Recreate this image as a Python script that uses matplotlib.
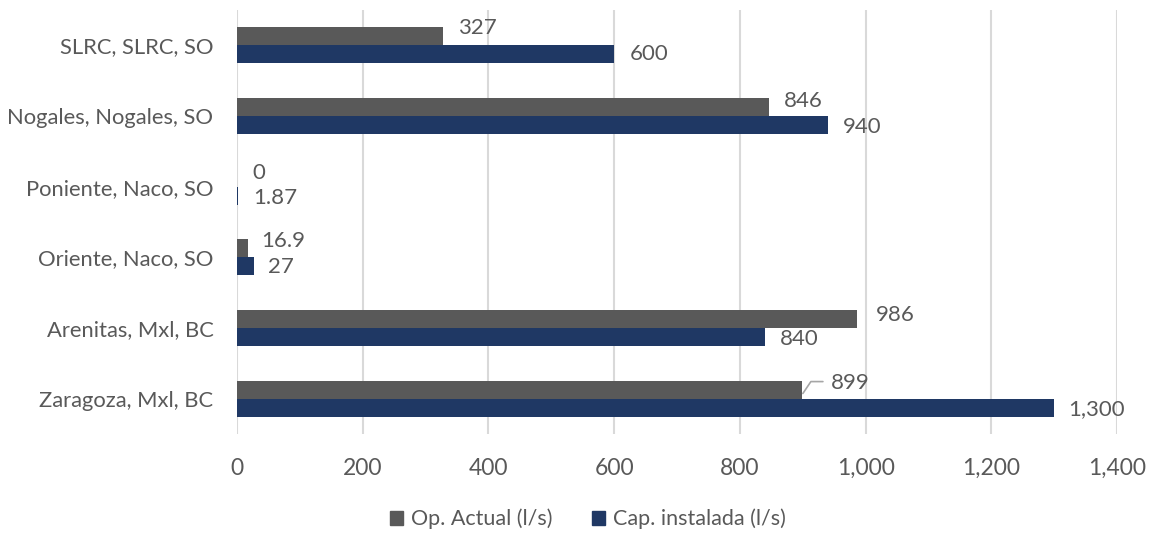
import matplotlib.pyplot as plt
import numpy as np
from matplotlib.patches import Patch

# Plantas y caudales (l/s)
plantas = ["SLRC, SLRC, SO", "Nogales, Nogales, SO", "Poniente, Naco, SO",
           "Oriente, Naco, SO", "Arenitas, Mxl, BC", "Zaragoza, Mxl, BC"]
op_actual = [327, 846, 0, 16.9, 986, 899]
cap_instalada = [600, 940, 1.87, 27, 840, 1300]
etiq_op = ["327", "846", "0", "16.9", "986", "899"]
etiq_cap = ["600", "940", "1.87", "27", "840", "1,300"]

gris = "#595959"
azul = "#1F3864"
texto = "#595959"

plt.rcParams["font.family"] = ["Lato", "DejaVu Sans"]

fig = plt.figure(figsize=(11.51, 5.33), dpi=100)
ax = fig.add_axes([237 / 1151, 99 / 533, 880 / 1151, 424 / 533])

y = np.arange(len(plantas))
h = 0.254
ax.barh(y - h / 2, op_actual, height=h, color=gris, zorder=3)
ax.barh(y + h / 2, cap_instalada, height=h, color=azul, zorder=3)

# etiquetas de datos (desplazamiento en puntos)
desp_op = [(11.5, 6), (11, 4.5), (11, 3.5), (10, 5), (14, 3), (21, 5)]
desp_cap = [(11, 0), (11, -1.5), (11, -1.5), (10, -0.7), (11, -1.5), (10, -0.7)]
for i in range(len(plantas)):
    ax.annotate(etiq_op[i], (op_actual[i], y[i] - h / 2), xytext=desp_op[i],
                textcoords="offset points", va="center", ha="left",
                fontsize=16, color=texto)
    ax.annotate(etiq_cap[i], (cap_instalada[i], y[i] + h / 2), xytext=desp_cap[i],
                textcoords="offset points", va="center", ha="left",
                fontsize=16, color=texto)

# linea guia para la etiqueta de Zaragoza
i = 5
ax.annotate("", xy=(op_actual[i], y[i] - h / 2 + 0.07), xytext=(15, 9.4),
            textcoords="offset points",
            arrowprops=dict(arrowstyle="-", color="#A6A6A6", lw=1.2,
                            shrinkA=0, shrinkB=1,
                            connectionstyle="angle,angleA=0,angleB=56,rad=0"))

ax.set_xlim(0, 1400)
ax.set_ylim(len(plantas) - 0.5, -0.5)
ax.set_xticks(np.arange(0, 1401, 200))
ax.xaxis.set_major_formatter(plt.FuncFormatter(lambda v, p: f"{int(v):,}"))
ax.set_yticks(y)
ax.set_yticklabels(plantas)
ax.tick_params(axis="both", length=0, labelsize=16.5, labelcolor=texto)
ax.tick_params(axis="y", pad=17, labelsize=15.8)
ax.tick_params(axis="x", pad=17)
ax.grid(axis="x", color="#D9D9D9", lw=1.5, zorder=0)
for s in ax.spines.values():
    s.set_visible(False)

handles = [Patch(color=gris, label="Op. Actual (l/s)"),
           Patch(color=azul, label="Cap. instalada (l/s)")]
fig.legend(handles=handles, loc="center", bbox_to_anchor=(588 / 1151, 14 / 533),
           ncol=2, frameon=False, fontsize=15.5, handlelength=0.6, handleheight=0.6,
           handletextpad=0.4, columnspacing=1.8, labelcolor=texto)

fig.savefig("out.png", dpi=100)
